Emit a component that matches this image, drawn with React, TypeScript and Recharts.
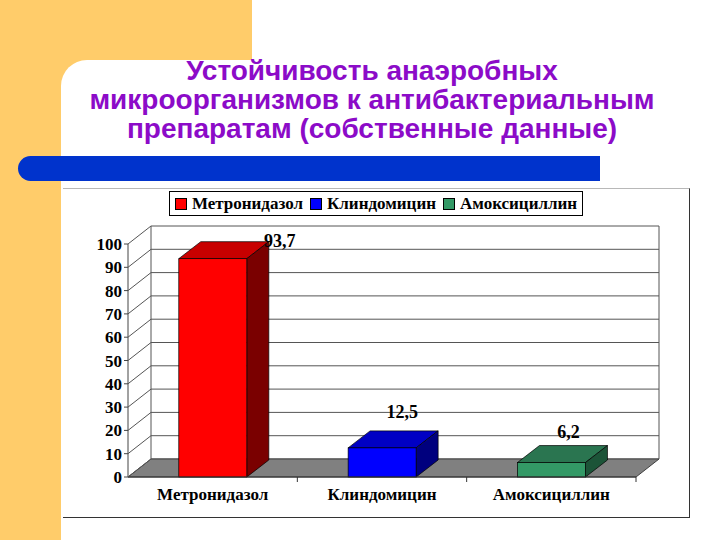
import React from 'react';
import {
  BarChart,
  Bar,
  XAxis,
  YAxis,
  CartesianGrid,
  ReferenceArea,
  LabelList,
} from 'recharts';

const categories = ['Метронидазол', 'Клиндомицин', 'Амоксициллин'];
const resistance = [93.7, 12.5, 6.2];
const yTicks = [0, 10, 20, 30, 40, 50, 60, 70, 80, 90, 100];

const frontColors = ['#FF0000', '#0000FF', '#339966'];
const topColors = ['#C80000', '#0000C4', '#2A7550'];
const sideColors = ['#7A0000', '#00007E', '#1C5438'];

const titleLines = [
  'Устойчивость анаэробных',
  'микроорганизмов к антибактериальным',
  'препаратам (собственные данные)',
];

const chartData = categories.map((name, i) => ({ name, value: resistance[i] }));

// 3D depth of the walls and of the bars
const WALL_DX = 23;
const WALL_DY = -18;
const BAR_DX = 22;
const BAR_DY = -17;

// where Excel put each value label, relative to the front top of the bar
const labelShift = [
  { dx: 67, dy: -18 },
  { dx: 20, dy: -36 },
  { dx: 17, dy: -31 },
];

const serif = '"Liberation Serif", "Times New Roman", serif';

const Bar3D = (props: any) => {
  const { x, y, width, height, index } = props;
  const bottom = y + height;
  return (
    <g>
      <polygon
        points={`${x},${y} ${x + BAR_DX},${y + BAR_DY} ${x + width + BAR_DX},${y + BAR_DY} ${x + width},${y}`}
        fill={topColors[index]}
        stroke="#000"
        strokeWidth={0.7}
      />
      <polygon
        points={`${x + width},${y} ${x + width + BAR_DX},${y + BAR_DY} ${x + width + BAR_DX},${bottom + BAR_DY} ${x + width},${bottom}`}
        fill={sideColors[index]}
        stroke="#000"
        strokeWidth={0.7}
      />
      <rect x={x} y={y} width={width} height={height} fill={frontColors[index]} stroke="#000" strokeWidth={0.7} />
    </g>
  );
};

const WallsAndFloor = (props: any) => {
  const { x, y, width, height } = props;
  const b = y + height;
  return (
    <g>
      <polygon
        points={`${x},${b} ${x + width},${b} ${x + width + WALL_DX},${b + WALL_DY} ${x + WALL_DX},${b + WALL_DY}`}
        fill="#808080"
        stroke="#404040"
        strokeWidth={1}
      />
      <line x1={x + WALL_DX} y1={y + WALL_DY} x2={x + WALL_DX} y2={b + WALL_DY} stroke="#555" />
      <line x1={x + width + WALL_DX} y1={y + WALL_DY} x2={x + width + WALL_DX} y2={b + WALL_DY} stroke="#555" />
    </g>
  );
};

const BackGridLine = (props: any) => (
  <line
    key={props.key ?? `g-${props.index}`}
    x1={props.x1 + WALL_DX}
    y1={props.y1 + WALL_DY}
    x2={props.x2 + WALL_DX}
    y2={props.y2 + WALL_DY}
    stroke="#555"
    strokeWidth={1}
  />
);

const YTick = (props: any) => {
  const { x, y, payload } = props;
  const axisX = x + 6;
  return (
    <g>
      <line x1={axisX} y1={y} x2={axisX + WALL_DX} y2={y + WALL_DY} stroke="#555" />
      <text x={x} y={y} dy={6} textAnchor="end" fontFamily={serif} fontWeight="bold" fontSize={17} fill="#000">
        {payload.value}
      </text>
    </g>
  );
};

const XTick = (props: any) => {
  const { x, y, payload } = props;
  const edge = x + (payload.offset || 0);
  return (
    <g>
      <line x1={edge} y1={y} x2={edge} y2={y + 5} stroke="#333" />
      <text x={x} y={y + 23} textAnchor="middle" fontFamily={serif} fontWeight="bold" fontSize={17} fill="#000">
        {payload.value}
      </text>
    </g>
  );
};

const ValueLabel = (props: any) => {
  const { x, y, width, value, index } = props;
  const s = labelShift[index] || { dx: 0, dy: -20 };
  return (
    <text
      x={x + width / 2 + s.dx}
      y={y + s.dy}
      dy={6}
      textAnchor="middle"
      fontFamily={serif}
      fontWeight="bold"
      fontSize={18}
      fill="#000"
    >
      {String(value).replace('.', ',')}
    </text>
  );
};

export default function App() {
  return (
    <div style={{ position: 'absolute', left: 0, top: 0, width: 720, height: 540, overflow: 'hidden', background: '#fff' }}>
      {/* slide background */}
      <div style={{ position: 'absolute', left: 0, top: 0, width: 252, height: 540, background: '#FFCC6A' }} />
      <div
        style={{
          position: 'absolute',
          left: 61,
          top: 60,
          right: 0,
          bottom: 0,
          background: '#fff',
          borderTopLeftRadius: 26,
        }}
      />
      <div
        style={{
          position: 'absolute',
          left: 60,
          top: 56,
          width: 624,
          textAlign: 'center',
          fontFamily: '"Liberation Sans", Arial, sans-serif',
          fontWeight: 'bold',
          fontSize: 28,
          lineHeight: '29px',
          color: '#8C0BC8',
          whiteSpace: 'nowrap',
        }}
      >
        {titleLines.map((t) => (
          <div key={t}>{t}</div>
        ))}
      </div>
      <div
        style={{
          position: 'absolute',
          left: 18,
          top: 156,
          width: 582,
          height: 25,
          background: '#0033CC',
          borderRadius: '13px 0 0 13px',
        }}
      />

      {/* chart frame */}
      <div
        style={{
          position: 'absolute',
          left: 63,
          top: 188,
          width: 626,
          height: 328,
          borderTop: '1px solid #b8b8b8',
          borderRight: '1px solid #333',
          borderBottom: '1px solid #333',
        }}
      />

      {/* legend */}
      <div
        style={{
          position: 'absolute',
          left: 169,
          top: 191,
          width: 412,
          height: 23,
          border: '1px solid #000',
          background: '#fff',
          display: 'flex',
          alignItems: 'center',
          justifyContent: 'center',
          gap: 7,
          fontFamily: serif,
          fontWeight: 'bold',
          fontSize: 17,
          color: '#000',
          whiteSpace: 'nowrap',
        }}
      >
        {categories.map((c, i) => (
          <div key={c} style={{ display: 'flex', alignItems: 'center', gap: 5 }}>
            <span style={{ display: 'inline-block', width: 10, height: 10, background: frontColors[i], border: '1px solid #000' }} />
            <span>{c}</span>
          </div>
        ))}
      </div>

      <div style={{ position: 'absolute', left: 0, top: 0 }}>
        <BarChart
          width={720}
          height={540}
          data={chartData}
          margin={{ top: 244, right: 84, bottom: 33, left: 68 }}
          barCategoryGap="30%"
        >
          <ReferenceArea y1={0} y2={100} shape={WallsAndFloor} ifOverflow="visible" zIndex={-50} />
          <CartesianGrid vertical={false} horizontal={BackGridLine} />
          <XAxis
            dataKey="name"
            height={30}
            interval={0}
            tickSize={0}
            tickMargin={0}
            tickLine={false}
            axisLine={{ stroke: '#333' }}
            tick={XTick}
          />
          <YAxis
            width={60}
            domain={[0, 100]}
            ticks={yTicks}
            interval={0}
            tickSize={4}
            tickMargin={2}
            axisLine={{ stroke: '#444' }}
            tickLine={{ stroke: '#444' }}
            tick={YTick}
          />
          <Bar dataKey="value" shape={Bar3D} isAnimationActive={false}>
            <LabelList dataKey="value" content={ValueLabel} />
          </Bar>
        </BarChart>
      </div>
    </div>
  );
}
